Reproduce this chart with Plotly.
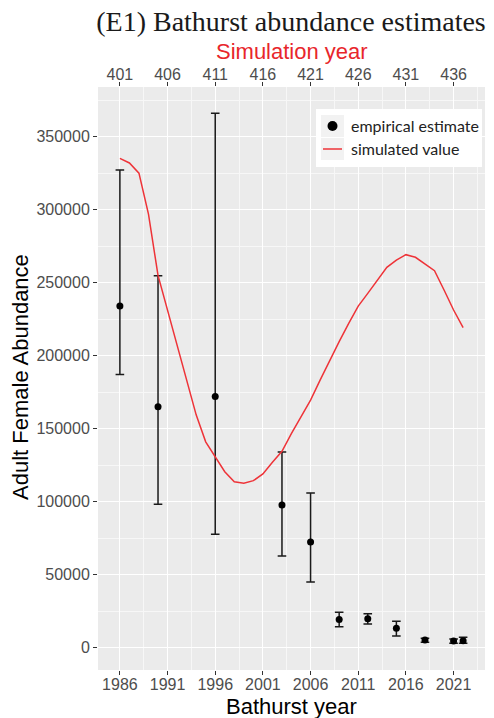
import plotly.graph_objects as go

# ---- data ----
emp_years = [1986, 1990, 1996, 2003, 2006, 2009, 2012, 2015, 2018, 2021, 2022]
emp_est = [234000, 165000, 172000, 97700, 72400, 19400, 19900, 13300, 5300, 4600, 4800]
emp_lo = [187200, 98200, 77700, 62800, 45000, 14400, 16200, 8000, 3700, 3000, 3000]
emp_hi = [327200, 254800, 366000, 134000, 106000, 24200, 23300, 18100, 6400, 6000, 7100]

sim_years = list(range(401, 438))
sim_values = [335200, 332000, 325000, 297000, 255000, 231000, 208000, 183000,
              159500, 141000, 130500, 120500, 113700, 112600, 114400, 119000,
              127000, 134500, 146800, 158200, 169600, 183300, 197000, 209600,
              222200, 234000, 242700, 251800, 260500, 265500, 269200, 267400,
              262600, 258200, 245000, 231300, 219200]

year_offset = 1585  # Bathurst year - Simulation year
bath_ticks = [1986, 1991, 1996, 2001, 2006, 2011, 2016, 2021]
sim_ticks = [401, 406, 411, 416, 421, 426, 431, 436]
y_ticks = [0, 50000, 100000, 150000, 200000, 250000, 300000, 350000]
legend_labels = ["empirical estimate", "simulated value"]

x_range = [1983.705, 2024.295]
y_range = [-15270, 384040]

RED = "#EE3338"
BG = "#EBEBEB"
TICKC = "#4D4D4D"

W, H = 494, 718
ML, MR, MT, MB = 98, 9, 87, 48
PW, PH = W - ML - MR, H - MT - MB


def px(x):
    return (x - ML) / PW


def py(y):
    return (H - MB - y) / PH


fig = go.Figure()

err_plus = [h - e for h, e in zip(emp_hi, emp_est)]
err_minus = [e - l for e, l in zip(emp_est, emp_lo)]

fig.add_trace(go.Scatter(
    x=emp_years, y=emp_est, mode="markers", name=legend_labels[0],
    marker=dict(color="black", size=7),
    error_y=dict(type="data", symmetric=False, array=err_plus, arrayminus=err_minus,
                 color="#1a1a1a", thickness=1.5, width=4.3),
    xaxis="x", yaxis="y", showlegend=False,
))

fig.add_trace(go.Scatter(
    x=sim_years, y=sim_values, mode="lines", name=legend_labels[1],
    line=dict(color=RED, width=1.5),
    xaxis="x2", yaxis="y", showlegend=False,
))

axis_common = dict(
    ticks="outside", ticklen=4, tickcolor="#333333", tickwidth=1,
    tickfont=dict(size=16, color=TICKC), zeroline=False, showline=False,
    automargin=False,
)

shapes = [
    # legend box
    dict(type="rect", xref="paper", yref="paper", x0=px(316), x1=px(482), y0=py(167), y1=py(109),
         fillcolor="white", line=dict(width=0), layer="above"),
    # legend keys
    dict(type="rect", xref="paper", yref="paper", x0=px(321), x1=px(344), y0=py(137), y1=py(115),
         fillcolor="#F2F2F2", line=dict(width=0), layer="above"),
    dict(type="rect", xref="paper", yref="paper", x0=px(321), x1=px(344), y0=py(160), y1=py(138),
         fillcolor="#F2F2F2", line=dict(width=0), layer="above"),
    # key glyphs
    dict(type="circle", xref="paper", yref="paper", x0=px(327.5), x1=px(337.5), y0=py(131), y1=py(121),
         fillcolor="black", line=dict(width=0), layer="above"),
    dict(type="line", xref="paper", yref="paper", x0=px(323), x1=px(342), y0=py(149), y1=py(149),
         line=dict(color=RED, width=1.5), layer="above"),
]

annotations = [
    dict(text=legend_labels[0], xref="paper", yref="paper", x=px(349), y=py(126),
         xanchor="left", yanchor="middle", showarrow=False,
         font=dict(family="Lato, sans-serif", size=16, color="#222222")),
    dict(text=legend_labels[1], xref="paper", yref="paper", x=px(349), y=py(149),
         xanchor="left", yanchor="middle", showarrow=False,
         font=dict(family="Lato, sans-serif", size=16, color="#222222")),
    dict(text="Simulation year", xref="paper", yref="paper", x=0.5, y=py(52),
         xanchor="center", yanchor="middle", showarrow=False,
         font=dict(size=22, color="#E8262B")),
    dict(text="Bathurst year", xref="paper", yref="paper", x=0.5, y=py(706),
         xanchor="center", yanchor="middle", showarrow=False,
         font=dict(size=22, color="black")),
    dict(text="Adult Female Abundance", xref="paper", yref="paper", x=px(20), y=py(377),
         xanchor="center", yanchor="middle", showarrow=False, textangle=-90,
         font=dict(size=22, color="black")),
]

fig.update_layout(
    width=W, height=H,
    margin=dict(l=ML, r=MR, t=MT, b=MB),
    paper_bgcolor="white",
    plot_bgcolor=BG,
    font=dict(family="Liberation Sans, Arial, sans-serif", color="black"),
    title=dict(text="(E1) Bathurst abundance estimates",
               font=dict(family="Liberation Serif, Times New Roman, serif", size=28, color="#1a1a1a"),
               x=291 / W, xanchor="center", xref="container",
               y=1 - 21 / H, yanchor="middle", yref="container"),
    xaxis=dict(
        range=x_range, tickvals=bath_ticks, ticktext=[str(v) for v in bath_ticks],
        showgrid=True, gridcolor="white", gridwidth=1.3,
        minor=dict(tick0=1983.5, dtick=2.5, showgrid=True, gridcolor="#F7F7F7", gridwidth=0.7),
        ticklabelstandoff=-4,
        **axis_common,
    ),
    xaxis2=dict(
        range=[x_range[0] - year_offset, x_range[1] - year_offset],
        overlaying="x", side="top", anchor="y",
        tickvals=sim_ticks, ticktext=[str(v) for v in sim_ticks],
        showgrid=False,
        ticklabelstandoff=-4,
        **axis_common,
    ),
    yaxis=dict(
        range=y_range, tickvals=y_ticks, ticktext=[str(v) for v in y_ticks],
        showgrid=True, gridcolor="white", gridwidth=1.3,
        minor=dict(tick0=-25000, dtick=25000, showgrid=True, gridcolor="#F7F7F7", gridwidth=0.7),
        **axis_common,
    ),
    shapes=shapes,
    annotations=annotations,
    showlegend=False,
)

fig.write_html("out.html", config={"displayModeBar": False},
               post_script="document.body.style.margin='0';")
